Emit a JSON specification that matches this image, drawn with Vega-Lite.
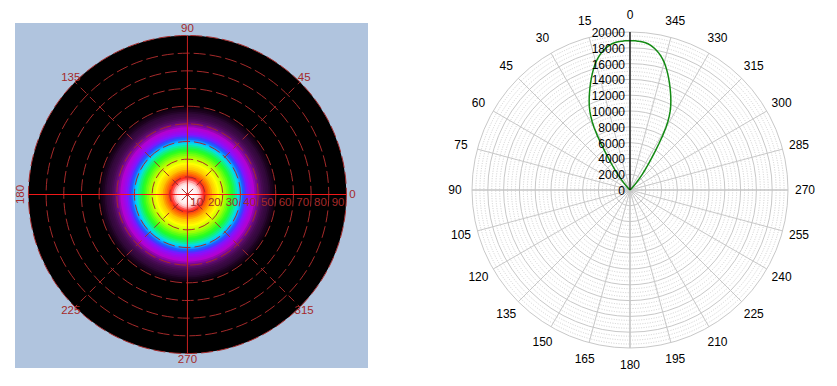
{
  "$schema": "https://vega.github.io/schema/vega-lite/v6.json",
  "padding": {"left": 15, "top": 9, "right": 5, "bottom": 0},
  "background": "white",
  "bounds": "flush",
  "spacing": 95,
  "resolve": {"scale": {"size": "independent", "color": "independent"}},
  "config": {"view": {"stroke": null}, "font": "Liberation Sans"},
  "datasets": {
    "profile": [
      {"a": 90, "I": 0}, {"a": 80, "I": 0}, {"a": 70, "I": 0}, {"a": 60, "I": 0}, {"a": 52, "I": 0},
      {"a": 50, "I": 10}, {"a": 49, "I": 30}, {"a": 48, "I": 60}, {"a": 47, "I": 110}, {"a": 46, "I": 180},
      {"a": 45, "I": 280}, {"a": 44, "I": 420}, {"a": 43, "I": 620}, {"a": 42, "I": 880}, {"a": 41, "I": 1200},
      {"a": 40, "I": 1600}, {"a": 39, "I": 2050}, {"a": 38, "I": 2550}, {"a": 37, "I": 3050}, {"a": 36, "I": 3600},
      {"a": 35, "I": 4200}, {"a": 34, "I": 4950}, {"a": 33, "I": 5900}, {"a": 32, "I": 6900}, {"a": 31, "I": 8000},
      {"a": 30, "I": 9050}, {"a": 29, "I": 9870}, {"a": 28, "I": 10580}, {"a": 27, "I": 11200}, {"a": 26, "I": 11740},
      {"a": 25, "I": 12230}, {"a": 24, "I": 12700}, {"a": 23, "I": 13160}, {"a": 22, "I": 13620}, {"a": 21, "I": 14080},
      {"a": 20, "I": 14540}, {"a": 19, "I": 15000}, {"a": 18, "I": 15460}, {"a": 17, "I": 15900}, {"a": 16, "I": 16320},
      {"a": 15, "I": 16720}, {"a": 14, "I": 17080}, {"a": 13, "I": 17400}, {"a": 12, "I": 17680}, {"a": 11, "I": 17920},
      {"a": 10, "I": 18150}, {"a": 9, "I": 18350}, {"a": 8, "I": 18520}, {"a": 7, "I": 18650}, {"a": 6, "I": 18740},
      {"a": 5, "I": 18800}, {"a": 4, "I": 18840}, {"a": 3, "I": 18870}, {"a": 2, "I": 18890}, {"a": 1, "I": 18900},
      {"a": 0, "I": 18900}
    ],
    "ringsL": [
      {"r": 10}, {"r": 20}, {"r": 30}, {"r": 40}, {"r": 50}, {"r": 60}, {"r": 70}, {"r": 80}, {"r": 90}
    ],
    "spokesL": [
      {"a": 0, "r": [0, 90]}, {"a": 45, "r": [0, 90]}, {"a": 90, "r": [0, 90]}, {"a": 135, "r": [0, 90]},
      {"a": 180, "r": [0, 90]}, {"a": 225, "r": [0, 90]}, {"a": 270, "r": [0, 90]}, {"a": 315, "r": [0, 90]}
    ],
    "circlesR": [
      {"r": 500}, {"r": 1000}, {"r": 1500}, {"r": 2000}, {"r": 2500}, {"r": 3000}, {"r": 3500}, {"r": 4000},
      {"r": 4500}, {"r": 5000}, {"r": 5500}, {"r": 6000}, {"r": 6500}, {"r": 7000}, {"r": 7500}, {"r": 8000},
      {"r": 8500}, {"r": 9000}, {"r": 9500}, {"r": 10000}, {"r": 10500}, {"r": 11000}, {"r": 11500}, {"r": 12000},
      {"r": 12500}, {"r": 13000}, {"r": 13500}, {"r": 14000}, {"r": 14500}, {"r": 15000}, {"r": 15500}, {"r": 16000},
      {"r": 16500}, {"r": 17000}, {"r": 17500}, {"r": 18000}, {"r": 18500}, {"r": 19000}, {"r": 19500}, {"r": 20000}
    ],
    "spokesR": [
      {"a": 0, "r": [0, 20000]}, {"a": 15, "r": [0, 20000]}, {"a": 30, "r": [0, 20000]}, {"a": 45, "r": [0, 20000]},
      {"a": 60, "r": [0, 20000]}, {"a": 75, "r": [0, 20000]}, {"a": 90, "r": [0, 20000]}, {"a": 105, "r": [0, 20000]},
      {"a": 120, "r": [0, 20000]}, {"a": 135, "r": [0, 20000]}, {"a": 150, "r": [0, 20000]}, {"a": 165, "r": [0, 20000]},
      {"a": 180, "r": [0, 20000]}, {"a": 195, "r": [0, 20000]}, {"a": 210, "r": [0, 20000]}, {"a": 225, "r": [0, 20000]},
      {"a": 240, "r": [0, 20000]}, {"a": 255, "r": [0, 20000]}, {"a": 270, "r": [0, 20000]}, {"a": 285, "r": [0, 20000]},
      {"a": 300, "r": [0, 20000]}, {"a": 315, "r": [0, 20000]}, {"a": 330, "r": [0, 20000]}, {"a": 345, "r": [0, 20000]}
    ],
    "ticksR": [
      {"v": 0}, {"v": 2000}, {"v": 4000}, {"v": 6000}, {"v": 8000}, {"v": 10000},
      {"v": 12000}, {"v": 14000}, {"v": 16000}, {"v": 18000}, {"v": 20000}
    ]
  },
  "hconcat": [
    {
      "width": 353,
      "height": 345,
      "view": {"fill": "#B0C4DE", "stroke": null},
      "layer": [
        {
          "data": {"name": "profile"},
          "mark": {"type": "point", "shape": "circle", "filled": true, "opacity": 1, "strokeWidth": 0},
          "encoding": {
            "x": {"datum": 0, "type": "quantitative", "scale": {"domain": [-97.6, 102.2], "nice": false, "zero": false}, "axis": null},
            "y": {
              "datum": 0, "type": "quantitative", "scale": {"domain": [-98.2, 97.07], "nice": false, "zero": false},
              "axis": {
                "orient": "right", "offset": 4, "domain": true, "domainColor": "#000000", "domainWidth": 1.5,
                "ticks": false, "labels": false, "grid": false,
                "title": "光強度(Candela)", "titleFont": "Liberation Sans, Noto Sans CJK JP", "titleFontSize": 14,
                "titleFontWeight": "normal", "titleColor": "#000000", "titleAngle": 270,
                "titleX": 16.5, "titleY": 210.5, "titleAlign": "center", "titleBaseline": "middle"
              }
            },
            "size": {"field": "a", "type": "quantitative", "legend": null, "scale": {"type": "pow", "exponent": 2, "domain": [0, 90], "range": [0, 101124], "zero": true, "nice": false}},
            "color": {
              "field": "I", "type": "quantitative", "legend": null,
              "scale": {
                "type": "linear",
                "domain": [0, 20, 150, 700, 1600, 2550, 4550, 6600, 9450, 12000, 13850, 15460, 16720, 17550, 18250, 18520, 18700, 18900],
                "range": ["#000000", "#140014", "#300838", "#4c0c58", "#7a0a94", "#b400d0", "#8a10ff", "#1e50ff", "#00dcff", "#20ff20", "#b0ff00", "#ffff00", "#ffc800", "#ff7800", "#ff1e1e", "#ff9a9a", "#ffe6e6", "#ffffff"],
                "interpolate": "rgb", "clamp": true, "nice": false, "zero": false
              }
            }
          }
        },
        {
          "data": {"name": "ringsL"},
          "mark": {"type": "point", "shape": "circle", "filled": false, "opacity": 1, "strokeWidth": 1, "strokeDash": [12, 4]},
          "encoding": {
            "x": {"datum": 0, "type": "quantitative", "axis": null},
            "y": {"datum": 0, "type": "quantitative", "axis": null},
            "size": {"field": "r", "type": "quantitative", "legend": null},
            "stroke": {"value": "#A52A2A"}
          }
        },
        {
          "data": {"name": "spokesL"},
          "transform": [
            {"filter": "datum.a % 90 != 0"},
            {"flatten": ["r"]},
            {"calculate": "datum.r*cos(datum.a*PI/180)", "as": "ex"},
            {"calculate": "datum.r*sin(datum.a*PI/180)", "as": "ey"}
          ],
          "mark": {"type": "line", "strokeWidth": 1, "strokeDash": [8, 5]},
          "encoding": {
            "x": {"field": "ex", "type": "quantitative", "axis": null},
            "y": {"field": "ey", "type": "quantitative", "axis": null},
            "detail": {"field": "a", "type": "nominal"},
            "order": {"field": "r", "type": "quantitative"},
            "color": {"value": "#A52A2A"}
          }
        },
        {
          "data": {"name": "spokesL"},
          "transform": [
            {"filter": "datum.a == 90 || datum.a == 270"},
            {"flatten": ["r"]},
            {"calculate": "datum.r*cos(datum.a*PI/180)", "as": "ex"},
            {"calculate": "datum.r*sin(datum.a*PI/180)", "as": "ey"}
          ],
          "mark": {"type": "line", "strokeWidth": 1},
          "encoding": {
            "x": {"field": "ex", "type": "quantitative", "axis": null},
            "y": {"field": "ey", "type": "quantitative", "axis": null},
            "detail": {"field": "a", "type": "nominal"},
            "order": {"field": "r", "type": "quantitative"},
            "color": {"value": "#C82020"}
          }
        },
        {
          "data": {"name": "spokesL"},
          "transform": [
            {"filter": "datum.a == 0 || datum.a == 180"},
            {"flatten": ["r"]},
            {"calculate": "datum.r*cos(datum.a*PI/180)", "as": "ex"},
            {"calculate": "datum.r*sin(datum.a*PI/180)", "as": "ey"}
          ],
          "mark": {"type": "line", "strokeWidth": 1.2},
          "encoding": {
            "x": {"field": "ex", "type": "quantitative", "axis": null},
            "y": {"field": "ey", "type": "quantitative", "axis": null},
            "detail": {"field": "a", "type": "nominal"},
            "order": {"field": "r", "type": "quantitative"},
            "color": {"value": "#F01818"}
          }
        },
        {
          "data": {"name": "ringsL"},
          "mark": {"type": "text", "align": "right", "baseline": "middle", "dx": -2, "dy": 8, "fontSize": 11.5, "font": "Liberation Sans"},
          "encoding": {
            "x": {"field": "r", "type": "quantitative", "axis": null},
            "y": {"datum": 0, "type": "quantitative", "axis": null},
            "text": {"field": "r", "type": "quantitative"},
            "color": {"value": "#A52A2A"}
          }
        },
        {
          "data": {"name": "spokesL"},
          "transform": [
            {"filter": "datum.a != 180"},
            {"calculate": "93.4*cos(datum.a*PI/180)", "as": "lx"},
            {"calculate": "93.4*sin(datum.a*PI/180)", "as": "ly"}
          ],
          "mark": {"type": "text", "align": "center", "baseline": "middle", "fontSize": 11.5, "font": "Liberation Sans"},
          "encoding": {
            "x": {"field": "lx", "type": "quantitative", "axis": null},
            "y": {"field": "ly", "type": "quantitative", "axis": null},
            "text": {"field": "a", "type": "quantitative"},
            "color": {"value": "#A52A2A"}
          }
        },
        {
          "data": {"name": "spokesL"},
          "transform": [
            {"filter": "datum.a == 180"},
            {"calculate": "94.2*cos(datum.a*PI/180)", "as": "lx"},
            {"calculate": "94.2*sin(datum.a*PI/180)", "as": "ly"}
          ],
          "mark": {"type": "text", "align": "center", "baseline": "middle", "fontSize": 11.5, "angle": 270, "font": "Liberation Sans"},
          "encoding": {
            "x": {"field": "lx", "type": "quantitative", "axis": null},
            "y": {"field": "ly", "type": "quantitative", "axis": null},
            "text": {"field": "a", "type": "quantitative"},
            "color": {"value": "#A52A2A"}
          }
        }
      ]
    },
    {
      "width": 334,
      "height": 334,
      "layer": [
        {
          "data": {"name": "circlesR"},
          "transform": [{"filter": "datum.r % 2000 != 0"}],
          "mark": {"type": "point", "shape": "circle", "filled": false, "opacity": 1, "stroke": "#CFCFCF", "strokeWidth": 1, "strokeDash": [1, 1.5]},
          "encoding": {
            "x": {"datum": 0, "type": "quantitative", "scale": {"domain": [-21139, 21139], "nice": false, "zero": false}, "axis": null},
            "y": {
              "datum": 0, "type": "quantitative", "scale": {"domain": [-21139, 21139], "nice": false, "zero": false},
              "axis": {
                "orient": "left", "offset": -167, "values": [0, 2000, 4000, 6000, 8000, 10000, 12000, 14000, 16000, 18000, 20000],
                "domain": false, "grid": false, "ticks": true, "tickSize": 4, "tickColor": "#000000", "tickWidth": 1,
                "labels": false, "title": null, "zindex": 1
              }
            },
            "size": {"field": "r", "type": "quantitative", "legend": null, "scale": {"type": "pow", "exponent": 2, "domain": [0, 20000], "range": [0, 99856], "zero": true, "nice": false}}
          }
        },
        {
          "data": {"name": "circlesR"},
          "transform": [{"filter": "datum.r % 2000 == 0"}],
          "mark": {"type": "point", "shape": "circle", "filled": false, "opacity": 1, "stroke": "#C8C8C8", "strokeWidth": 1},
          "encoding": {
            "x": {"datum": 0, "type": "quantitative", "axis": null},
            "y": {"datum": 0, "type": "quantitative", "axis": null},
            "size": {"field": "r", "type": "quantitative", "legend": null}
          }
        },
        {
          "data": {"name": "spokesR"},
          "transform": [
            {"filter": "datum.a % 90 != 0"},
            {"flatten": ["r"]},
            {"calculate": "-datum.r*sin(datum.a*PI/180)", "as": "ex"},
            {"calculate": "datum.r*cos(datum.a*PI/180)", "as": "ey"}
          ],
          "mark": {"type": "line", "strokeWidth": 1},
          "encoding": {
            "x": {"field": "ex", "type": "quantitative", "axis": null},
            "y": {"field": "ey", "type": "quantitative", "axis": null},
            "detail": {"field": "a", "type": "nominal"},
            "order": {"field": "r", "type": "quantitative"},
            "color": {"value": "#C8C8C8"}
          }
        },
        {
          "data": {"name": "spokesR"},
          "transform": [
            {"filter": "datum.a % 90 == 0"},
            {"flatten": ["r"]},
            {"calculate": "-datum.r*sin(datum.a*PI/180)", "as": "ex"},
            {"calculate": "datum.r*cos(datum.a*PI/180)", "as": "ey"}
          ],
          "mark": {"type": "line", "strokeWidth": 1.6},
          "encoding": {
            "x": {"field": "ex", "type": "quantitative", "axis": null},
            "y": {"field": "ey", "type": "quantitative", "axis": null},
            "detail": {"field": "a", "type": "nominal"},
            "order": {"field": "r", "type": "quantitative"},
            "color": {"value": "#C4C4C4"}
          }
        },
        {
          "data": {"name": "profile"},
          "transform": [
            {"filter": "datum.a <= 52"},
            {"calculate": "-datum.I*sin(datum.a*PI/180)", "as": "px"},
            {"calculate": "datum.I*cos(datum.a*PI/180)", "as": "py"}
          ],
          "mark": {"type": "line", "strokeWidth": 1.5},
          "encoding": {
            "x": {"field": "px", "type": "quantitative", "axis": null},
            "y": {"field": "py", "type": "quantitative", "axis": null},
            "order": {"field": "a", "type": "quantitative"},
            "color": {"value": "#138A13"}
          }
        },
        {
          "data": {"name": "profile"},
          "transform": [
            {"filter": "datum.a <= 52"},
            {"calculate": "datum.I*sin(datum.a*PI/180)", "as": "px"},
            {"calculate": "datum.I*cos(datum.a*PI/180)", "as": "py"}
          ],
          "mark": {"type": "line", "strokeWidth": 1.5},
          "encoding": {
            "x": {"field": "px", "type": "quantitative", "axis": null},
            "y": {"field": "py", "type": "quantitative", "axis": null},
            "order": {"field": "a", "type": "quantitative"},
            "color": {"value": "#138A13"}
          }
        },
        {
          "data": {"name": "ticksR"},
          "mark": {"type": "line", "strokeWidth": 1.2},
          "encoding": {
            "x": {"datum": 0, "type": "quantitative", "axis": null},
            "y": {"field": "v", "type": "quantitative", "axis": null},
            "order": {"field": "v", "type": "quantitative"},
            "color": {"value": "#000000"}
          }
        },
        {
          "data": {"name": "ticksR"},
          "mark": {"type": "text", "align": "right", "baseline": "middle", "dx": -5, "dy": 1, "fontSize": 12, "fill": "#000000", "font": "Liberation Sans"},
          "encoding": {
            "x": {"datum": 0, "type": "quantitative", "axis": null},
            "y": {"field": "v", "type": "quantitative", "axis": null},
            "text": {"field": "v", "type": "quantitative", "format": "d"}
          }
        },
        {
          "data": {"name": "spokesR"},
          "transform": [
            {"calculate": "-22150*sin(datum.a*PI/180)", "as": "lx"},
            {"calculate": "22150*cos(datum.a*PI/180)", "as": "ly"}
          ],
          "mark": {"type": "text", "align": "center", "baseline": "middle", "fontSize": 12, "fill": "#000000", "font": "Liberation Sans"},
          "encoding": {
            "x": {"field": "lx", "type": "quantitative", "axis": null},
            "y": {"field": "ly", "type": "quantitative", "axis": null},
            "text": {"field": "a", "type": "quantitative"}
          }
        }
      ]
    }
  ]
}
